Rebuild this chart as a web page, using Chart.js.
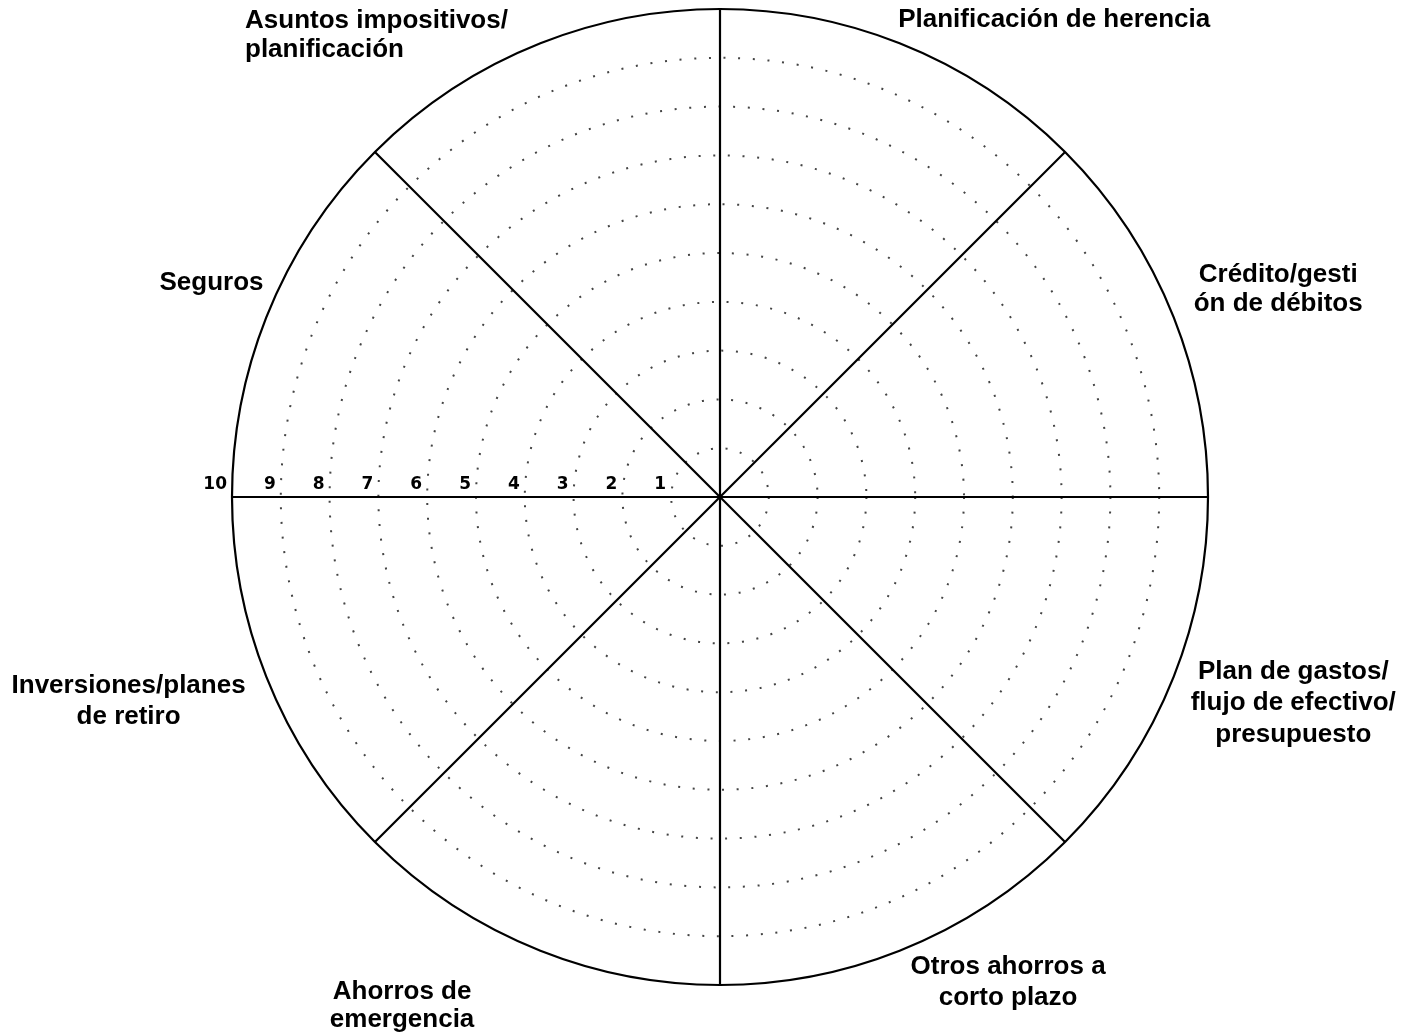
<!DOCTYPE html>
<html>
<head>
<meta charset="utf-8">
<script src="https://cdn.jsdelivr.net/npm/chart.js@4/dist/chart.umd.min.js"></script>
<style>
  html, body { margin: 0; padding: 0; background: #fff; }
  canvas { display: block; }
</style>
</head>
<body>
<canvas id="wheelChart" width="1421" height="1034"></canvas>
<script>
// sectors, clockwise from the top
var categories = [
  ['Planificación de herencia'],
  ['Crédito/gesti', 'ón de débitos'],
  ['Plan de gastos/', 'flujo de efectivo/', 'presupuesto'],
  ['Otros ahorros a', 'corto plazo'],
  ['Ahorros de', 'emergencia'],
  ['Inversiones/planes', 'de retiro'],
  ['Seguros'],
  ['Asuntos impositivos/', 'planificación']
];
var scores = []; // blank wheel, nothing filled in yet
var ringLabels = ['1', '2', '3', '4', '5', '6', '7', '8', '9', '10'];
var ringMax = 10;

// where each title sits: angle (deg, clockwise from top), distance in radii, line spacing
var labelPlacement = [
  { angle: 34.9, dist: 1.197, lineHeight: 28 },
  { angle: 69.4, dist: 1.222, lineHeight: 29.5 },
  { angle: 109.6, dist: 1.247, lineHeight: 31.5 },
  { angle: 149.2, dist: 1.153, lineHeight: 31 },
  { angle: 212.1, dist: 1.226, lineHeight: 28 },
  { angle: 251.1, dist: 1.281, lineHeight: 31 },
  { angle: 293.0, dist: 1.132, lineHeight: 28 },
  { angle: 314.3, dist: 1.360, lineHeight: 29, align: 'left' }
];

var wheelText = {
  id: 'wheelText',
  afterDraw: function(chart) {
    var ctx = chart.ctx;
    var r = chart.scales.r;
    ctx.save();
    ctx.fillStyle = '#000';
    ctx.textBaseline = 'alphabetic';
    ctx.font = 'bold 26px "Liberation Sans", Arial, sans-serif';
    for (var i = 0; i < categories.length; i++) {
      var p = labelPlacement[i];
      var a = p.angle * Math.PI / 180;
      var d = r.drawingArea * p.dist;
      var x = r.xCenter + Math.sin(a) * d;
      var y = r.yCenter - Math.cos(a) * d;
      var lines = categories[i];
      ctx.textAlign = p.align || 'center';
      for (var j = 0; j < lines.length; j++) {
        var ly = y + (j - (lines.length - 1) / 2) * p.lineHeight + 9.3;
        ctx.fillText(lines[j], x, ly);
      }
    }

    // ring numbers along the left spoke
    ctx.font = 'bold 17px "DejaVu Sans", sans-serif';
    ctx.textAlign = 'right';
    for (var k = 0; k < ringLabels.length; k++) {
      var dist = r.getDistanceFromCenterForValue(k + 1);
      ctx.fillText(ringLabels[k], r.xCenter - dist - 5, r.yCenter - 8);
    }
    ctx.restore();
  }
};

new Chart(document.getElementById('wheelChart'), {
  type: 'radar',
  data: {
    labels: categories,
    datasets: [{
      data: scores,
      borderWidth: 0,
      pointRadius: 0,
      backgroundColor: 'rgba(0,0,0,0)'
    }]
  },
  options: {
    responsive: false,
    animation: false,
    layout: { padding: { left: 232, right: 213, top: 9, bottom: 49 } },
    plugins: {
      legend: { display: false },
      tooltip: { enabled: false }
    },
    scales: {
      r: {
        min: 0,
        max: ringMax,
        ticks: { display: false, stepSize: 1 },
        pointLabels: { display: false },
        grid: {
          circular: true,
          color: function(c) { return c.tick.value === ringMax ? '#000' : '#444'; },
          lineWidth: function(c) { return c.tick.value === ringMax ? 2.2 : 2; }
        },
        border: {
          dash: function(c) { return c.tick.value === ringMax ? [] : [2, 12.7]; }
        },
        angleLines: { color: '#000', lineWidth: 2.2 }
      }
    }
  },
  plugins: [wheelText]
});
</script>
</body>
</html>
